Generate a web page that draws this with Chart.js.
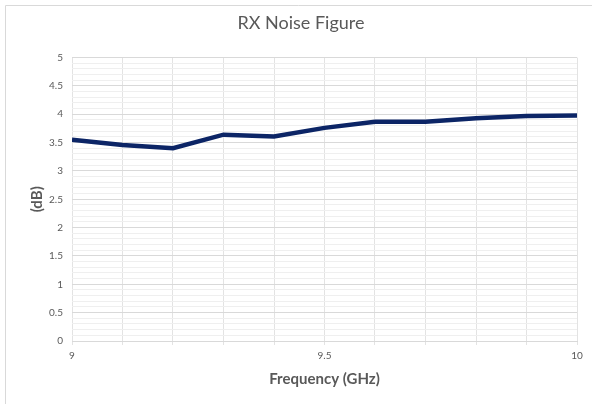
<!DOCTYPE html>
<html>
<head>
<meta charset="utf-8">
<script src="https://cdn.jsdelivr.net/npm/chart.js@4"></script>
<style>
  html, body { margin: 0; padding: 0; background: #fff; }
  #wrap { width: 592px; height: 404px; position: relative; }
</style>
</head>
<body>
<div id="wrap"><canvas id="nf"></canvas></div>
<script>
const freqs = [9.0, 9.1, 9.2, 9.3, 9.4, 9.5, 9.6, 9.7, 9.8, 9.9, 10.0];
const noiseFigure = [3.55, 3.46, 3.40, 3.64, 3.61, 3.76, 3.87, 3.87, 3.93, 3.97, 3.98];
const xLabels = [9, 9.5, 10];
const yLabels = [0, 0.5, 1, 1.5, 2, 2.5, 3, 3.5, 4, 4.5, 5];

const textColor = "#595959";
const font = "Lato, 'Open Sans', sans-serif";

// light frame on top and left edges, like the exported chart box
const framePlugin = {
  id: "frame",
  beforeDraw(chart) {
    const { ctx } = chart;
    ctx.save();
    ctx.strokeStyle = "#d9d9d9";
    ctx.lineWidth = 1;
    ctx.beginPath();
    ctx.moveTo(5.5, chart.height);
    ctx.lineTo(5.5, 5.5);
    ctx.lineTo(chart.width, 5.5);
    ctx.stroke();
    ctx.restore();
  },
};

const isLabel = (list, v) => list.some((l) => Math.abs(l - v) < 1e-6);

new Chart(document.getElementById("nf"), {
  type: "line",
  data: {
    datasets: [{
      data: freqs.map((f, i) => ({ x: f, y: noiseFigure[i] })),
      borderColor: "#0c2566",
      borderWidth: 4.5,
      pointRadius: 0,
      tension: 0,
      fill: false,
    }],
  },
  options: {
    responsive: true,
    maintainAspectRatio: false,
    animation: false,
    layout: { padding: { left: 25, right: 15, top: 6, bottom: 5 } },
    plugins: {
      legend: { display: false },
      tooltip: { enabled: false },
      title: {
        display: true,
        text: "RX Noise Figure",
        color: textColor,
        font: { family: font, size: 18, weight: "normal" },
        padding: { top: 6, bottom: 24 },
      },
    },
    scales: {
      x: {
        type: "linear",
        min: 9,
        max: 10,
        afterBuildTicks(scale) {
          scale.ticks = freqs.map((v) => ({ value: v }));
        },
        afterFit(scale) { scale.height = 58; },
        grid: { color: "#e3e3e3", drawTicks: true, tickLength: 4 },
        border: { color: "#d9d9d9" },
        ticks: {
          color: textColor,
          font: { family: font, size: 10 },
          padding: 5,
          maxRotation: 0,
          autoSkip: false,
          callback: (v) => (isLabel(xLabels, v) ? String(v) : ""),
        },
        title: {
          display: true,
          text: "Frequency (GHz)",
          color: textColor,
          font: { family: font, size: 15, weight: "bold" },
          padding: { top: 0, bottom: 11 },
        },
      },
      y: {
        min: 0,
        max: 5,
        afterBuildTicks(scale) {
          const t = [];
          for (let i = 0; i <= 50; i++) t.push({ value: i / 10 });
          scale.ticks = t;
        },
        afterFit(scale) { scale.width = 47; },
        grid: {
          drawTicks: false,
          color: (c) => (isLabel(yLabels, c.tick.value) ? "#d9d9d9" : "#efefef"),
        },
        border: { display: false },
        ticks: {
          color: textColor,
          font: { family: font, size: 10 },
          padding: 9,
          autoSkip: false,
          callback: (v) => (isLabel(yLabels, v) ? String(v) : ""),
        },
        title: {
          display: true,
          text: "(dB)",
          color: textColor,
          font: { family: font, size: 15, weight: "bold" },
          padding: { top: 3, bottom: 0 },
        },
      },
    },
  },
  plugins: [framePlugin],
});
</script>
</body>
</html>
